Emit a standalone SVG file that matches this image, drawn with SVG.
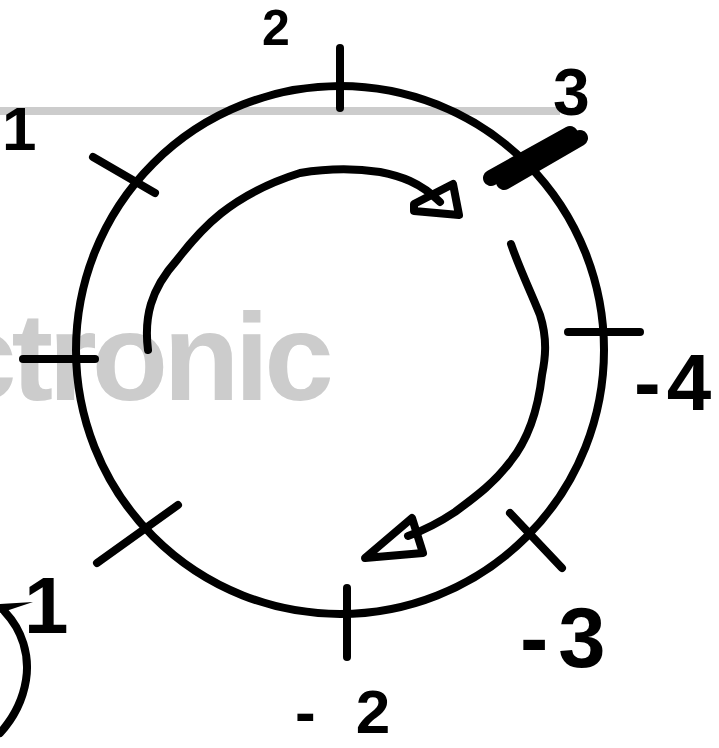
<svg xmlns="http://www.w3.org/2000/svg" width="719" height="748" viewBox="0 0 719 748">
  <style>
    .ink { fill: none; stroke: #000; stroke-width: 8; stroke-linecap: round; stroke-linejoin: round; }
    .thick { fill: none; stroke: #000; stroke-width: 16; stroke-linecap: round; }
    .lbl { font-family: "Liberation Sans", Arial, sans-serif; font-weight: bold; fill: #000; }
    .wm { font-family: "Liberation Sans", Arial, sans-serif; font-weight: bold; fill: #cccccc; }
  </style>
  <rect width="719" height="748" fill="#fff"/>
  <g id="watermark">
    <line x1="0" y1="111" x2="560" y2="111" stroke="#cccccc" stroke-width="8"/>
    <text class="wm" x="-53" y="400" font-size="125" letter-spacing="-5">ctronic</text>
  </g>
  <g id="dial">
    <circle class="ink" cx="340" cy="350" r="264"/>
  </g>
  <g id="ticks">
    <line class="ink" x1="340" y1="48" x2="340" y2="108"/>
    <line class="ink" x1="93" y1="157" x2="155" y2="193"/>
    <line class="ink" x1="23" y1="359" x2="95" y2="359"/>
    <line class="ink" x1="97" y1="563" x2="178" y2="505"/>
    <line class="ink" x1="347" y1="588" x2="347" y2="657"/>
    <line class="ink" x1="510" y1="513" x2="562" y2="568"/>
    <line class="ink" x1="568" y1="332" x2="640" y2="332"/>
    <line class="thick" x1="491" y1="178" x2="570" y2="134"/>
    <line class="thick" x1="504" y1="182" x2="580" y2="138"/>
  </g>
  <g id="connectors">
    <path class="ink" d="M148,350 C144,318 150,290 177,260 C200,230 230,195 300,173 C330,168 360,169 380,172 C400,176 420,182 440,202"/>
    <path class="ink" d="M414,211 L414,204 L453,184 L459,215 Z" stroke-width="9"/>
    <path class="ink" d="M511,244 C520,270 530,290 540,315 C548,340 545,360 542,375 C538,410 528,440 510,462 C495,482 478,495 455,512 C440,522 425,530 408,536" stroke-width="8.5"/>
    <path class="ink" d="M365,558 L412,518 L423,553 Z" stroke-width="10"/>
  </g>
  <g id="stroke-left">
    <path class="ink" d="M0,733 C10,722 22,705 26,680 C30,655 22,630 5,612"/>
    <path d="M0,604 L33,602 L0,613 Z" fill="#000"/>
  </g>
  <g id="labels">
    <text class="lbl" x="2" y="150" font-size="62">1</text>
    <text class="lbl" x="262" y="45" font-size="50">2</text>
    <text class="lbl" x="553" y="115" font-size="66">3</text>
    <text class="lbl" x="634" y="410" font-size="80">-<tspan dx="6">4</tspan></text>
    <text class="lbl" x="520" y="667" font-size="85">-<tspan dx="10">3</tspan></text>
    <text class="lbl" x="295" y="733" font-size="62">-<tspan dx="40">2</tspan></text>
    <text class="lbl" x="24" y="633" font-size="80">1</text>
  </g>
</svg>
